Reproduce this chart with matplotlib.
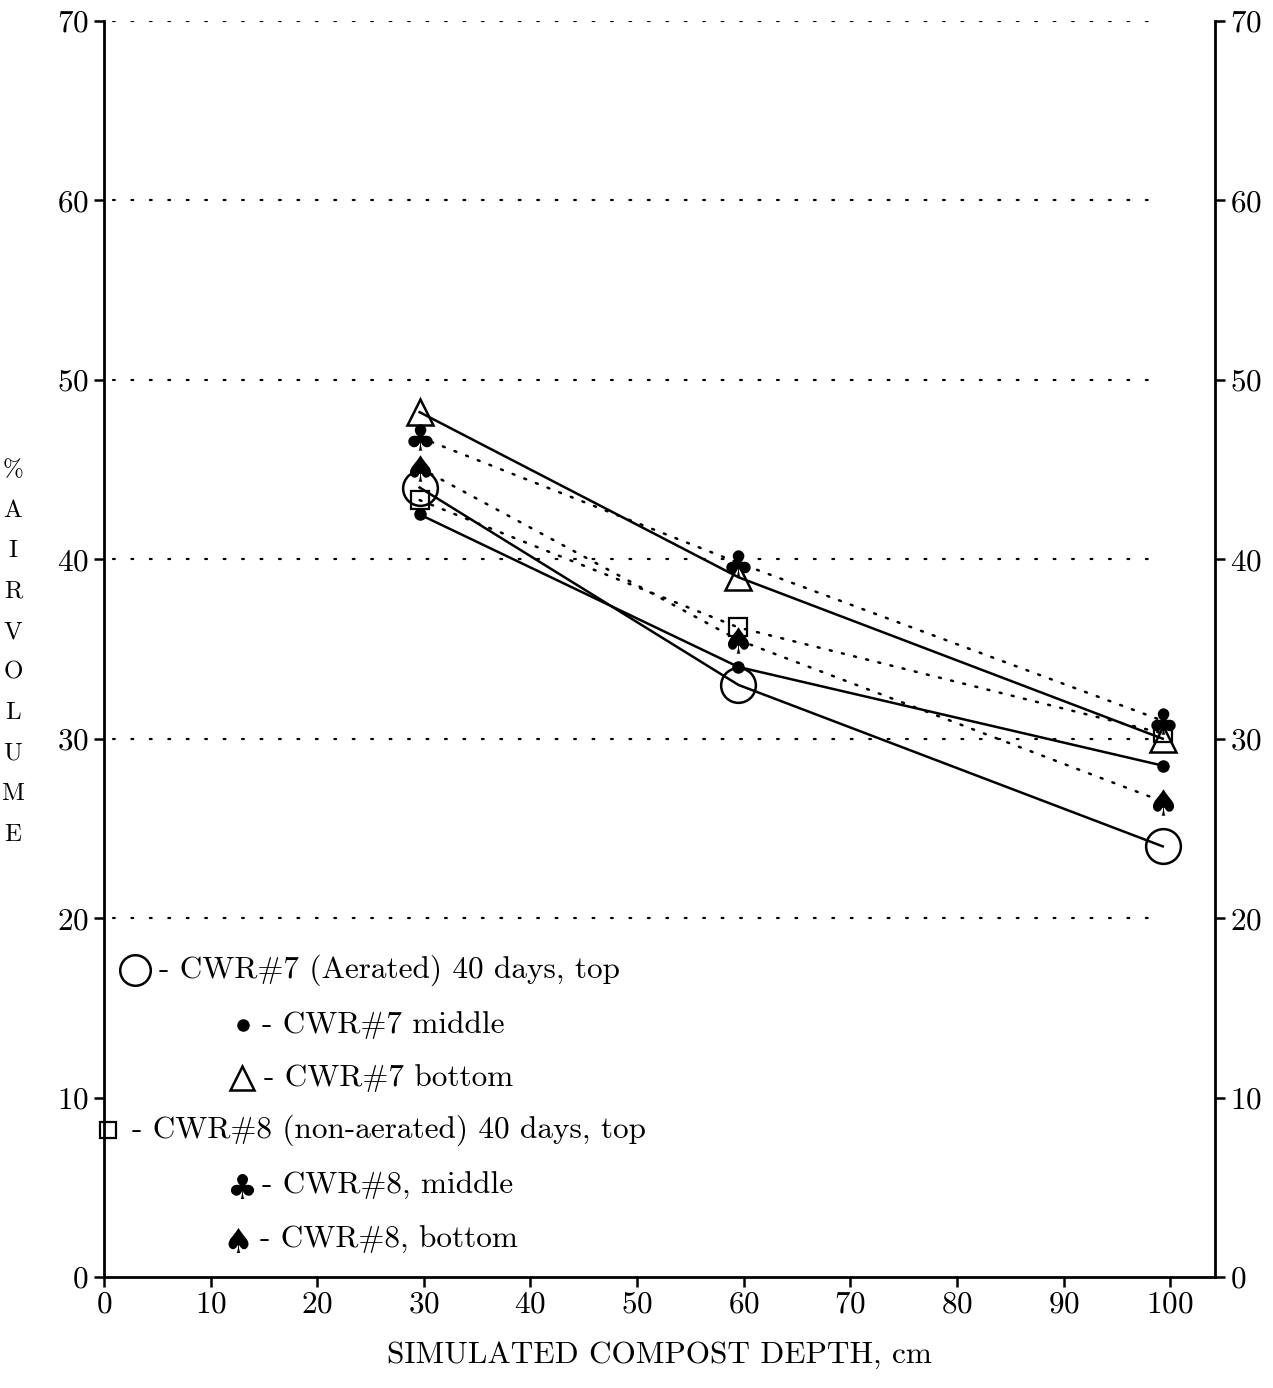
import matplotlib
matplotlib.use("Agg")
import matplotlib.pyplot as plt

plt.rcParams["font.family"] = ["cmr10", "DejaVu Serif"]
plt.rcParams["axes.formatter.use_mathtext"] = True
plt.rcParams["mathtext.fontset"] = "dejavusans"

# Sampling depths (cm) and air volume (%) per reactor / layer
depth = [29.6, 59.5, 99.3]
cwr7_top = [44.0, 33.0, 24.0]
cwr7_middle = [42.5, 34.0, 28.5]
cwr7_bottom = [48.2, 39.0, 30.0]
cwr8_top = [43.3, 36.2, 30.3]
cwr8_middle = [46.8, 39.8, 31.0]
cwr8_bottom = [45.1, 35.5, 26.5]

legend_labels = [
    "- CWR#7 (Aerated) 40 days, top",
    "- CWR#7 middle",
    "- CWR#7 bottom",
    "- CWR#8 (non-aerated) 40 days, top",
    "- CWR#8, middle",
    "- CWR#8, bottom",
]
x_ticks = [0, 10, 20, 30, 40, 50, 60, 70, 80, 90, 100]
y_ticks = [0, 10, 20, 30, 40, 50, 60, 70]
grid_levels = [20, 30, 40, 50, 60, 70]
ylabel_letters = ["%", "A", "I", "R", "V", "O", "L", "U", "M", "E"]
xlabel = "SIMULATED COMPOST DEPTH, cm"

W, H = 1273, 1388
fig = plt.figure(figsize=(W / 100, H / 100), dpi=100)
ax = fig.add_axes([104 / W, 1 - 1277 / H, (1215 - 104) / W, (1277 - 21) / H])
ax.set_xlim(0, 104.2)
ax.set_ylim(0, 70)

# dotted horizontal reference lines
for g in grid_levels:
    ax.plot([0.8, 99.0], [g, g], color="black", lw=1.6,
            dashes=(0.8, 7.5), dash_capstyle="round", zorder=1)

solid = dict(color="black", lw=1.8, zorder=2)
dotted = dict(color="black", lw=1.8, dashes=(0.8, 4.2), dash_capstyle="round", zorder=2)

ax.plot(depth, cwr7_top, **solid)
ax.plot(depth, cwr7_middle, **solid)
ax.plot(depth, cwr7_bottom, **solid)
ax.plot(depth, cwr8_top, **dotted)
ax.plot(depth, cwr8_middle, **dotted)
ax.plot(depth, cwr8_bottom, **dotted)

club = r"$\clubsuit$"
spade = r"$\spadesuit$"
styles = [
    dict(marker="o", ms=25, mfc="none", mec="black", mew=1.8),
    dict(marker="o", ms=8, mfc="black", mec="black"),
    dict(marker="^", ms=19, mfc="none", mec="black", mew=1.8),
    dict(marker="s", ms=13, mfc="none", mec="black", mew=1.6),
    dict(marker=club, ms=19, mfc="black", mec="black", mew=0),
    dict(marker=spade, ms=19, mfc="black", mec="black", mew=0),
]
series = [cwr7_top, cwr7_middle, cwr7_bottom, cwr8_top, cwr8_middle, cwr8_bottom]
for vals, st in zip(series, styles):
    ax.plot(depth, vals, ls="none", zorder=3, **st)

# hand-placed key inside the plot
key_marker_x = [2.9, 13.0, 12.9, 0.4, 12.9, 12.6]
key_text_x = [5.2, 14.8, 15.0, 2.6, 14.8, 14.6]
key_y = [17.1, 14.05, 11.1, 8.2, 5.07, 2.06]
key_sizes = [22, 8, 17, 12, 18, 18]
for st, mx, tx, ky, lab, ms in zip(styles, key_marker_x, key_text_x, key_y,
                                   legend_labels, key_sizes):
    st = dict(st)
    st["ms"] = ms
    ax.plot([mx], [ky], ls="none", clip_on=False, zorder=4, **st)
    ax.text(tx, ky, lab, fontsize=22.5, va="center", ha="left")

# axes frame and ticks
for side in ["left", "bottom", "right"]:
    ax.spines[side].set_linewidth(2.0)
ax.spines["top"].set_visible(False)
ax.set_xticks(x_ticks)
ax.set_yticks(y_ticks)
ax.tick_params(axis="both", direction="out", length=7, width=1.8, labelsize=22.5,
               pad=4)
ax.tick_params(axis="y", right=True, labelright=True)
ax.tick_params(axis="x", pad=3)

ax.set_xlabel(xlabel, fontsize=22.5, labelpad=16)

# vertical stacked axis title at the left margin
for i, ch in enumerate(ylabel_letters):
    fig.text(13 / W, 1 - (470 + i * 40.5) / H, ch, fontsize=18,
             ha="center", va="center")

fig.savefig("out.png", dpi=100)
